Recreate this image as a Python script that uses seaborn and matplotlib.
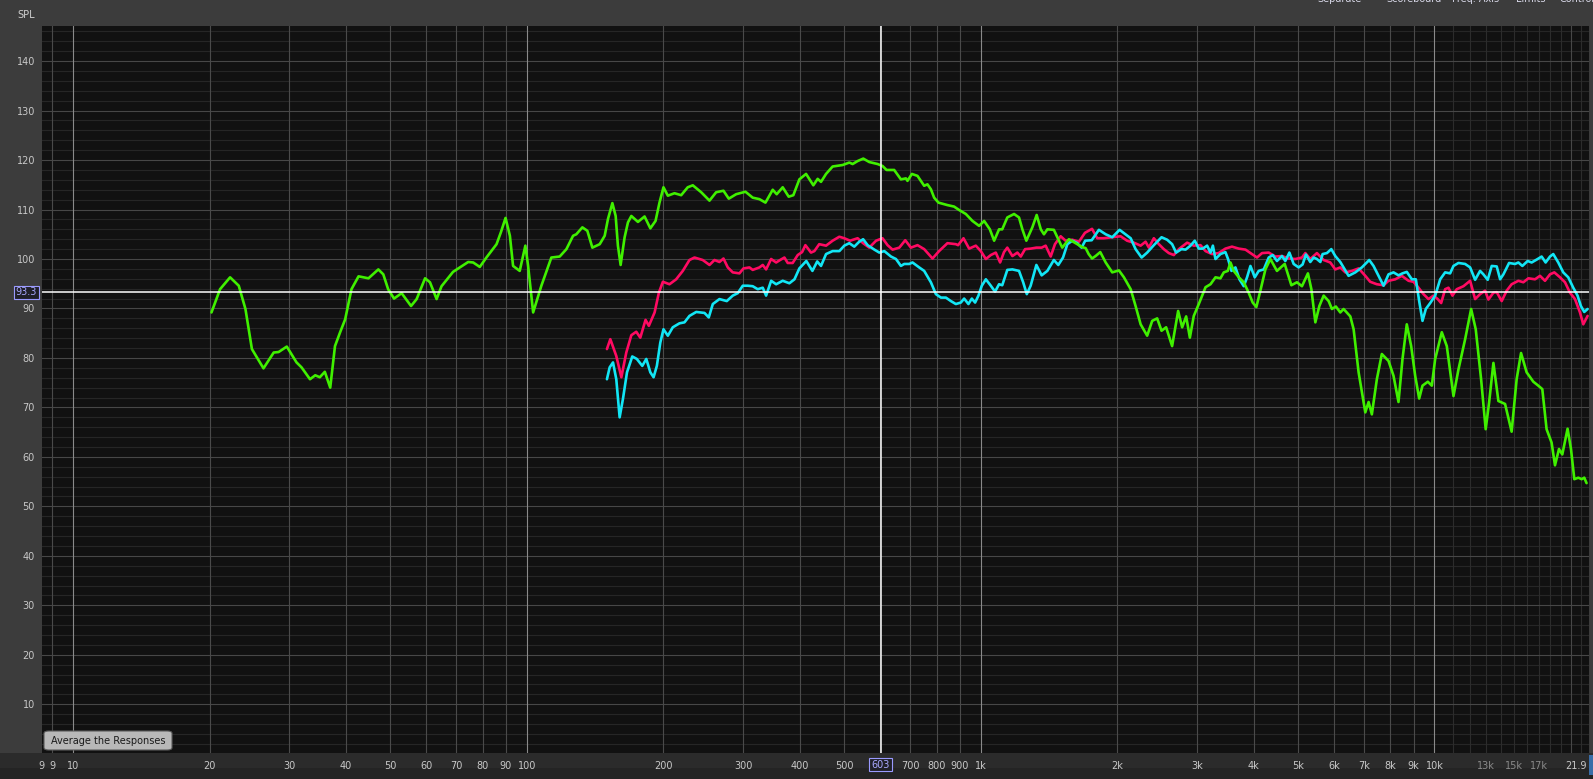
import numpy as np
import pandas as pd
import matplotlib
matplotlib.use("Agg")
import matplotlib.pyplot as plt
from matplotlib.patches import Rectangle, FancyBboxPatch
import seaborn as sns

plt.rcParams['font.family'] = ['DejaVu Sans']

# ---------------- data ----------------
green_freq = [20.2, 21.1, 22.2, 23.2, 24.0, 24.8, 26.3, 27.7, 28.4, 29.6, 31.1, 31.9, 33.3, 34.2, 35.0, 35.9,
              36.9, 37.8, 38.8, 39.8, 41.1, 42.6, 44.8, 47.1, 48.3, 49.5, 51.0, 53.0, 55.6, 57.2, 59.7, 61.2,
              63.3, 64.9, 68.8, 74.3, 76.2, 78.8, 81.5, 85.8, 87.7, 89.8, 91.8, 93.3, 96.5, 99.3, 100.7, 103.3,
              107.7, 113.3, 118.2, 122.3, 126.5, 128.6, 132.6, 136.0, 139.5, 144.8, 148.5, 151.0, 154.4, 157.0,
              158.8, 161.0, 164.3, 167.1, 170.0, 175.8, 181.8, 187.2, 192.2, 196.1, 200.1, 204.6, 211.6, 218.9,
              226.3, 232.2, 242.3, 252.7, 261.4, 271.3, 278.7, 289.3, 303.3, 314.7, 325.6, 335.7, 348.3, 355.4,
              366.4, 377.7, 386.7, 398.7, 412.5, 428, 437.5, 445, 456.5, 472, 496.6, 513.7, 522.4, 535.8, 551.4,
              568.4, 593, 608, 620.5, 645, 667.4, 684.5, 690, 705.6, 726, 751, 763.6, 777, 790, 807.5, 845, 874,
              897, 927.8, 959.4, 992.4, 1018, 1048, 1071, 1098, 1116, 1145, 1185, 1215, 1236, 1261, 1300, 1329,
              1357, 1379, 1403, 1450, 1488, 1513, 1565, 1633, 1675, 1704, 1730, 1760, 1792, 1835, 1886, 1950,
              2017, 2069, 2141, 2195, 2252, 2328, 2388, 2449, 2504, 2563, 2642, 2724, 2780, 2837, 2891, 2949,
              3025, 3130, 3210, 3292, 3376, 3434, 3504, 3552, 3612, 3705, 3800, 3896, 3976, 4051, 4134, 4241,
              4349, 4497, 4677, 4838, 4977, 5105, 5262, 5355, 5464, 5576, 5699, 5845, 5943, 6064, 6201, 6306,
              6524, 6635, 6805, 6944, 7040, 7159, 7278, 7465, 7656, 7920, 8123, 8331, 8502, 8689, 8884, 9067,
              9253, 9410, 9668, 9865, 10035, 10378, 10644, 11012, 11294, 11683, 12043, 12328, 12668, 12966,
              13193, 13485, 13830, 14306, 14791, 15171, 15514, 15959, 16510, 16933, 17280, 17660, 18113, 18430,
              18807, 19126, 19645, 19987, 20328, 20744, 21096, 21380, 21630]
green_spl = [89.2, 93.9, 96.3, 94.6, 89.9, 81.8, 77.9, 81.1, 81.2, 82.3, 79.1, 78.1, 75.7, 76.5, 76.1, 77.2,
             74.0, 82.4, 85.2, 87.8, 93.9, 96.5, 96.1, 97.9, 96.9, 93.9, 92.0, 93.1, 90.5, 91.9, 96.1, 95.3,
             91.9, 94.5, 97.4, 99.4, 99.3, 98.4, 100.3, 103.0, 105.4, 108.3, 104.7, 98.6, 97.6, 102.7, 98.6, 89.2,
             94.6, 100.3, 100.5, 102.0, 104.7, 105.0, 106.4, 105.7, 102.3, 103.0, 104.7, 108.1, 111.3, 108.7,
             102.7, 98.8, 104.4, 107.4, 108.7, 107.5, 108.6, 106.2, 107.7, 111.4, 114.5, 112.8, 113.3, 112.9,
             114.5, 114.9, 113.5, 111.8, 113.5, 113.8, 112.2, 113.1, 113.6, 112.4, 112.1, 111.4, 114.0, 113.1,
             114.5, 112.6, 112.9, 116.1, 117.2, 114.9, 116.2, 115.6, 117.2, 118.7, 119.0, 119.5, 119.2, 119.8, 120.3,
             119.6, 119.2, 118.8, 118.0, 118.0, 116.1, 116.3, 115.8, 117.2, 116.8, 114.8, 115.1, 114.1, 112.4, 111.4, 110.9, 110.6,
             109.9, 109.1, 107.7, 106.7, 107.7, 106.0, 103.7, 106.0, 106.0, 108.4, 109.1, 108.4, 106.0, 103.7, 106.4, 108.9,
             106.0, 105.0, 106.0, 105.9, 103.7, 102.3, 104.0, 103.0, 102.4, 102.2, 101.0, 100.1, 100.6, 101.4, 99.3, 97.3,
             97.7, 96.3, 93.9, 90.5, 86.8, 84.5, 87.5, 88.0, 85.5, 86.2, 82.4, 89.5, 86.2, 88.4, 84.1, 88.5,
             90.9, 94.3, 94.9, 96.3, 96.1, 97.3, 97.6, 99.3, 97.6, 96.3, 95.3, 93.2, 91.2, 90.3, 93.6, 97.9,
             100.0, 97.6, 99.0, 94.7, 95.3, 94.5, 97.1, 93.9, 87.2, 90.5, 92.6, 91.5, 89.9, 90.4, 89.2, 89.9,
             88.4, 85.8, 77.1, 72.3, 69.0, 71.1, 68.6, 75.7, 80.8, 79.4, 76.4, 71.1, 79.8, 86.8, 82.4, 76.4,
             71.8, 74.4, 75.2, 74.4, 79.8, 85.2, 82.4, 72.3, 77.7, 83.8, 89.9, 85.8, 75.7, 65.6,
             71.0, 79.0, 71.3, 70.7, 65.1, 75.7, 81.0, 77.1, 75.2, 74.4, 73.7, 65.6, 62.9, 58.3,
             61.6, 60.5, 65.7, 61.6, 55.5, 55.8, 55.5, 55.8, 54.7]

red_freq = [150.2, 152.8, 157.5, 161.6, 165.7, 170.0, 174.3, 177.9, 182.7, 185.8, 191.3, 195.5, 199.5, 206.3,
            213.4, 220.7, 228.3, 234.2, 244.2, 252.7, 259.2, 265.8, 271.3, 277.3, 284.4, 294.2, 300.2, 309.5,
            314.7, 325.6, 331.1, 336.8, 345.5, 354.4, 361.6, 369.6, 375.8, 385.4, 395.4, 404.3, 411.1, 423.0,
            430.2, 441, 456.5, 472, 488.3, 500.8, 515.6, 535.8, 551, 568.4, 588.3, 608, 623.7, 639.7, 662,
            682.3, 702.2, 726, 751, 783.5, 810, 845, 882, 892, 916.8, 943.5, 975.9, 1001, 1027, 1053, 1080,
            1104, 1126, 1145, 1175, 1205, 1226, 1253, 1289, 1327, 1363, 1391, 1427, 1458, 1501, 1539, 1592,
            1647, 1698, 1760, 1807, 1869, 1950, 2034, 2103, 2176, 2252, 2309, 2348, 2408, 2470, 2533, 2598,
            2665, 2734, 2851, 2949, 3051, 3130, 3235, 3345, 3462, 3579, 3705, 3833, 3963, 4064, 4169, 4313,
            4462, 4613, 4773, 4937, 5105, 5193, 5326, 5508, 5699, 5895, 6046, 6201, 6361, 6577, 6805, 7040,
            7217, 7465, 7723, 7920, 8195, 8472, 8767, 8990, 9221, 9458, 9701, 9950, 10169, 10345, 10556,
            10735, 10955, 11197, 11583, 11982, 12289, 12604, 12927, 13146, 13485, 13713, 14064, 14424,
            14791, 15305, 15697, 16099, 16653, 17080, 17518, 17967, 18365, 18904, 19389, 19886, 20397,
            20920, 21273, 21746]
red_spl = [81.8, 83.8, 80.4, 76.1, 81.1, 84.6, 85.3, 84.1, 87.7, 86.5, 89.2, 93.2, 95.4, 94.9,
           95.9, 97.6, 99.8, 100.3, 99.8, 98.8, 99.8, 99.4, 100.1, 98.3, 97.3, 97.1, 98.1, 98.3,
           97.8, 98.3, 98.8, 97.9, 100.0, 99.3, 99.8, 100.3, 99.2, 99.2, 100.8, 101.4, 102.8, 101.3,
           101.6, 103.0, 102.7, 103.7, 104.5, 104.2, 103.7, 104.2, 103.2, 102.3, 103.7, 104.2, 102.8, 101.9, 102.3,
           103.8, 102.3, 102.8, 102.0, 100.1, 101.6, 103.2, 103.0, 102.8, 104.2, 102.1, 102.7, 101.6, 100.0, 100.8, 101.3,
           99.3, 101.4, 102.3, 100.6, 101.3, 100.5, 102.0, 102.1, 102.3, 102.3, 102.7, 100.5, 103.0, 104.6, 103.7, 103.9,
           103.5, 105.3, 106.1, 104.2, 104.2, 104.4, 104.6, 103.7, 103.3, 102.7, 103.5, 102.3, 104.2, 103.0, 102.0, 101.2,
           100.8, 102.0, 103.3, 102.7, 102.8, 101.6, 101.0, 101.2, 102.1, 102.5, 102.1, 101.9, 101.0, 100.3, 101.2, 101.3,
           100.5, 100.6, 100.1, 100.0, 100.3, 101.2, 100.0, 101.2, 99.8, 99.3, 97.9, 98.3, 97.3, 97.6, 98.1, 96.6,
           95.4, 94.9, 94.7, 95.6, 95.9, 96.6, 95.6, 95.4, 94.2, 92.9, 91.9, 92.6, 91.9, 91.1, 93.9,
           94.2, 92.6, 93.9, 94.5, 95.6, 91.9, 92.9, 93.6, 91.8, 93.2, 93.3, 91.5, 93.6,
           94.9, 95.6, 95.3, 96.1, 95.9, 96.6, 95.6, 96.9, 97.3, 96.3, 95.3, 93.2, 91.9,
           89.2, 86.8, 88.5]

cyan_freq = [150.2, 152.3, 154.9, 157.5, 160.2, 162.9, 166.3, 170.8, 174.8, 179.7, 183.4, 187.2, 190.3, 193.5,
             196.9, 200.1, 204.6, 209.8, 217.0, 222.6, 228.3, 236.3, 246.4, 251.8, 257.0, 265.8, 275.9, 284.4,
             291.7, 299.2, 306.9, 314.7, 322.8, 331.1, 336.8, 345.5, 354.4, 366.4, 379, 388.9, 398.7, 413, 426,
             436.5, 445, 456.5, 472, 488.3, 500.8, 513.7, 526.8, 540.3, 551, 563.7, 583.3, 598.2, 613.5, 634.6,
             650.9, 667.4, 678.8, 696.1, 707.9, 732.3, 751, 777, 797, 817.6, 838.5, 859.9, 882, 904.4, 919.8,
             940.1, 956.4, 972.5, 989, 1006, 1027, 1053, 1076, 1098, 1116, 1145, 1175, 1215, 1241, 1264, 1289,
             1327, 1363, 1403, 1450, 1483, 1519, 1553, 1592, 1633, 1669, 1700, 1757, 1822, 1886, 1950, 2024,
             2086, 2141, 2195, 2263, 2328, 2408, 2504, 2576, 2642, 2696, 2770, 2829, 2900, 2964, 3025, 3087,
             3155, 3210, 3249, 3292, 3376, 3462, 3509, 3570, 3643, 3718, 3800, 3864, 3931, 4018, 4100, 4206,
             4313, 4402, 4497, 4613, 4692, 4789, 4895, 5020, 5122, 5209, 5326, 5418, 5508, 5604, 5669, 5794,
             5925, 6046, 6201, 6467, 6692, 6918, 7182, 7340, 7528, 7723, 7920, 8123, 8331, 8502, 8689, 8916,
             9098, 9253, 9410, 9570, 9786, 10035, 10294, 10556, 10826, 11012, 11294, 11683, 11982, 12289,
             12604, 12817, 13100, 13369, 13713, 13952, 14186, 14600, 15049, 15305, 15617, 16044, 16372,
             16877, 17222, 17574, 17967, 18268, 18738, 19218, 19713, 20219, 20666, 21017, 21380, 21746]
cyan_spl = [75.7, 78.1, 79.1, 75.7, 68.0, 71.7, 77.1, 80.3, 79.8, 78.4, 79.8, 77.1, 76.1, 78.4,
            83.1, 85.8, 84.5, 86.2, 87.0, 87.2, 88.5, 89.3, 89.1, 88.2, 90.9, 91.9, 91.5, 92.6,
            93.1, 94.6, 94.6, 94.5, 93.9, 94.2, 92.6, 95.6, 94.9, 95.6, 95.1, 95.9, 98.1, 99.6, 97.6,
            99.5, 98.6, 101.0, 101.6, 101.6, 102.7, 103.2, 102.5, 103.5, 104.0, 102.8, 101.9, 101.3, 101.6, 100.5,
            100.0, 98.6, 99.0, 99.0, 99.3, 98.3, 97.6, 95.3, 92.9, 92.2, 92.2, 91.5, 90.9, 91.2, 92.0,
            90.9, 92.0, 91.2, 92.6, 94.6, 95.9, 94.6, 93.4, 94.9, 94.7, 97.8, 97.9, 97.6, 95.3, 92.9, 94.6,
            98.8, 96.7, 97.6, 99.8, 98.8, 100.3, 103.0, 103.7, 103.2, 102.3, 103.7, 103.8, 105.9, 105.0, 104.4, 105.9,
            105.0, 104.2, 102.0, 100.3, 101.3, 102.8, 104.4, 103.9, 103.0, 101.3, 102.0, 101.9, 102.7, 103.7, 102.1, 102.1,
            102.7, 101.3, 102.7, 100.0, 101.0, 101.4, 100.0, 97.6, 98.3, 95.9, 94.5, 96.3, 98.6, 96.3, 97.6, 97.9,
            100.3, 100.8, 99.6, 100.6, 99.6, 101.3, 99.0, 98.3, 98.9, 100.9, 99.4, 100.3, 100.0, 99.4, 101.0, 101.2,
            102.0, 100.6, 99.4, 96.6, 97.3, 98.3, 99.8, 98.6, 96.6, 94.6, 96.9, 97.3, 96.7, 97.1, 97.4, 95.9,
            95.9, 91.5, 87.5, 89.9, 91.1, 92.6, 95.9, 97.3, 97.1, 98.6, 99.2, 99.0, 98.3, 95.8,
            97.6, 96.9, 95.8, 98.6, 98.5, 95.9, 96.9, 99.2, 99.0, 99.3, 98.6, 99.6, 99.3,
            100.0, 100.5, 99.3, 100.5, 101.0, 99.3, 97.3, 96.3, 94.2, 92.6, 90.5, 89.3, 89.9]

y_tick_values = [10, 20, 30, 40, 50, 60, 70, 80, 90, 100, 110, 120, 130, 140]
x_tick_values = [9, 10, 20, 30, 40, 50, 60, 70, 80, 90, 100, 200, 300, 400, 500, 700, 800, 900, 1000,
                 2000, 3000, 4000, 5000, 6000, 7000, 8000, 9000, 10000, 13000, 15000, 17000]
x_tick_labels = ['9', '10', '20', '30', '40', '50', '60', '70', '80', '90', '100', '200', '300', '400', '500',
                 '700', '800', '900', '1k', '2k', '3k', '4k', '5k', '6k', '7k', '8k', '9k', '10k', '13k', '15k', '17k']
cursor_freq = 603
cursor_spl = 93.3
x_min, x_max = 8.55, 21900
y_min, y_max = 0.15, 147.1

# ---------------- figure ----------------
W, H = 1593, 779
fig = plt.figure(figsize=(W / 100, H / 100), dpi=100, facecolor='#3c3c3c')

def fx(px):
    return px / W

def fy(py):
    return 1 - py / H

# bottom strip (frequency axis band) - drawn beneath the axes
fig.patches.append(Rectangle((0, 0), 1, fy(753), transform=fig.transFigure,
                             facecolor='#2b2b2b', edgecolor='none', zorder=-2))
fig.patches.append(Rectangle((0, 0), 1, fy(768), transform=fig.transFigure,
                             facecolor='#242424', edgecolor='none', zorder=-1))

ax = fig.add_axes([fx(42), fy(753), fx(1589) - fx(42), fy(26) - fy(753)])
ax.set_facecolor('#111111')
for s in ax.spines.values():
    s.set_visible(False)

ax.set_xscale('log')
ax.set_xlim(x_min, x_max)
ax.set_ylim(y_min, y_max)

# grid
for v in np.arange(2, 148, 2):
    if v % 10 == 0:
        ax.axhline(v, color='#474747', lw=0.8, zorder=1)
    else:
        ax.axhline(v, color='#262626', lw=0.8, zorder=0.5)
for dec in [1, 10, 100, 1000]:
    for m in range(2, 10):
        ax.axvline(m * dec, color='#4a4a4a', lw=0.8, zorder=1)
for f in [10, 100, 1000, 10000]:
    ax.axvline(f, color='#8a8a8a', lw=0.8, zorder=1.2)
for f in range(11000, 22000, 1000):
    c = '#474747' if f == 20000 else '#2c2c2c'
    ax.axvline(f, color=c, lw=0.8, zorder=0.8)

# curves
df = pd.concat([
    pd.DataFrame({'freq': red_freq, 'spl': red_spl, 'trace': 'red'}),
    pd.DataFrame({'freq': cyan_freq, 'spl': cyan_spl, 'trace': 'cyan'}),
    pd.DataFrame({'freq': green_freq, 'spl': green_spl, 'trace': 'green'}),
], ignore_index=True)
palette = {'red': '#ff0a62', 'cyan': '#12e6f5', 'green': '#40f000'}
sns.lineplot(data=df, x='freq', y='spl', hue='trace', hue_order=['red', 'cyan', 'green'],
             palette=palette, sort=False, estimator=None, legend=False, lw=1.9, ax=ax, zorder=3)
for ln in ax.lines[-3:]:
    ln.set_solid_joinstyle('round')
    ln.set_solid_capstyle('round')
ax.set_xlim(x_min, x_max)
ax.set_ylim(y_min, y_max)
ax.set_xlabel('')
ax.set_ylabel('')

# cursor lines
ax.axhline(cursor_spl, color='white', lw=1.1, zorder=4)
ax.axvline(cursor_freq, color='white', lw=1.1, zorder=4)

# ticks
ax.set_yticks(y_tick_values)
ax.set_yticklabels([str(v) for v in y_tick_values])
ax.set_xticks(x_tick_values)
ax.set_xticklabels(x_tick_labels)
ax.xaxis.set_minor_locator(matplotlib.ticker.NullLocator())
ax.tick_params(axis='both', length=0, labelsize=7, labelcolor='#c8c8c8')
ax.tick_params(axis='y', pad=5)
ax.tick_params(axis='x', pad=5.5)
for lab in ax.get_xticklabels():
    if lab.get_text() in ('13k', '15k', '17k'):
        lab.set_color('#8a8a8a')

# left edge "9" label and right "21.9"
fig.text(fx(41), fy(766), '9', ha='center', va='center', fontsize=7, color='#c8c8c8')
fig.text(fx(1587), fy(766), '21.9', ha='right', va='center', fontsize=7, color='#c8c8c8')
fig.patches.append(Rectangle((fx(1589), fy(775)), fx(4), fy(755) - fy(775), transform=fig.transFigure,
                             facecolor='#3a6ea8', edgecolor='none', zorder=5))

# SPL label
fig.text(fx(17), fy(15), 'SPL', ha='left', va='center', fontsize=7, color='#d0d0d0')

# cursor value boxes
fig.text(fx(26.5), fy(292.5), '93.3', ha='center', va='center', fontsize=7, color='#a8a8ff',
         bbox=dict(boxstyle='square,pad=0.15', facecolor='#202028', edgecolor='#9a9aff', lw=0.8))
fig.text(fx(880.5), fy(764.5), '603', ha='center', va='center', fontsize=7, color='#a8a8ff',
         bbox=dict(boxstyle='square,pad=0.2', facecolor='#202028', edgecolor='#9a9aff', lw=0.8))

# button
btn = FancyBboxPatch((fx(44), fy(750)), fx(128), fy(731) - fy(750),
                     boxstyle='round,pad=0,rounding_size=0.003', transform=fig.transFigure,
                     facecolor='#b8b8b8', edgecolor='#5c5c5c', lw=0.8, zorder=6)
fig.patches.append(btn)
fig.text(fx(108), fy(740.5), 'Average the Responses', ha='center', va='center', fontsize=7,
         color='#1a1a1a', zorder=7)

# toolbar texts at the very top (cut by the top edge, as in the reference)
for xt, t in [(1340, 'Separate'), (1414, 'Scoreboard'), (1476, 'Freq. Axis'), (1531, 'Limits'), (1580, 'Controls')]:
    fig.text(fx(xt), fy(-1.5), t, ha='center', va='center', fontsize=7, color='#d8d8e8')

fig.savefig('out.png', dpi=100, facecolor=fig.get_facecolor())
